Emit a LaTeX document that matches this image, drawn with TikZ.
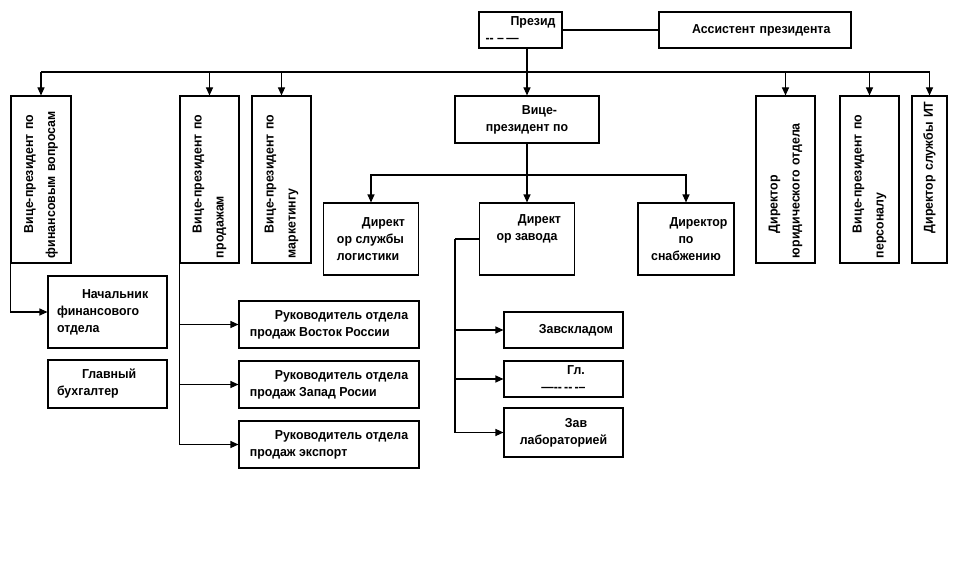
\documentclass[tikz,border=0pt]{standalone}
\usepackage{fontspec}
\setmainfont{Liberation Sans}[FakeStretch=0.95]
\usetikzlibrary{arrows.meta,positioning}
\newcommand{\firstind}{\hspace*{25pt}}
\tikzset{%
orgbox/.style={draw,line width=1.1pt,inner xsep=0pt,inner ysep=2pt,
  font=\bfseries\fontsize{13}{17}\selectfont},
lbox/.style={orgbox,align=left},
cbox/.style={orgbox,align=center},
vbox/.style={orgbox,rotate=90,align=left,minimum width=167pt,text width=157pt,
  font=\bfseries\fontsize{13}{22}\selectfont},
arr/.style={line width=1.1pt,-{Triangle[width=7pt,length=8pt]}},
link/.style={line width=1.1pt},
}

\begin{document}
\begin{tikzpicture}[x=1pt,y=-1pt]
  \useasboundingbox (0,0) rectangle (960,564);
  % top
  \node[lbox,minimum width=83pt,minimum height=36pt] (pres) at (520.5,30) {\firstind Презид\\-{}- \textendash\,\textemdash};
  \node[lbox,minimum width=192pt,text width=176pt,minimum height=36pt] (asst) at (755,30) {\firstind Ассистент президента};
  \draw[link] (pres) -- (asst);
  % vice presidents
  \node[vbox,minimum height=60pt] (vpfin) at (41,179.5) {\firstind Вице-президент по\\финансовым вопросам};
  \node[vbox,minimum height=59pt] (vpsales) at (209.5,179.5) {\firstind Вице-президент по\\продажам};
  \node[vbox,minimum height=59pt] (vpmkt) at (281.5,179.5) {\firstind Вице-президент по\\маркетингу};
  \node[cbox,minimum width=144pt,minimum height=47pt] (vpprod) at (527,119.5) {\firstind Вице-\\президент по};
  \node[vbox,minimum height=59pt] (dirlegal) at (785.5,179.5) {\firstind Директор\\юридического отдела};
  \node[vbox,minimum height=59pt] (vphr) at (869.5,179.5) {\firstind Вице-президент по\\персоналу};
  \node[vbox,minimum height=35pt] (dirit) at (929.5,179.5) {\firstind Директор службы ИТ};
  % directors
  \node[lbox,minimum width=95pt,minimum height=72pt] (dirlog) at (371,239) {\firstind Директ\\ор службы\\логистики};
  \node[cbox,minimum width=95pt,minimum height=72pt] (dirplant) at (527,239) {\firstind Директ\\ор завода\\\strut};
  \node[cbox,minimum width=96pt,minimum height=72pt] (dirsup) at (686,239) {\firstind Директор\\по\\снабжению};
  % finance and sales
  \node[lbox,minimum width=119pt,text width=101pt,minimum height=72pt] (headfin) at (107.5,312) {\firstind Начальник\\финансового\\отдела};
  \node[lbox,minimum width=119pt,text width=101pt,minimum height=48pt] (chiefacc) at (107.5,384) {\firstind Главный\\бухгалтер};
  \node[lbox,minimum width=180pt,minimum height=47pt] (sales1) at (329,324.5) {\firstind Руководитель отдела\\продаж Восток России};
  \node[lbox,minimum width=180pt,minimum height=47pt] (sales2) at (329,384.5) {\firstind Руководитель отдела\\продаж Запад Росии};
  \node[lbox,minimum width=180pt,minimum height=47pt] (sales3) at (329,444.5) {\firstind Руководитель отдела\\продаж экспорт};
  % plant
  \node[cbox,minimum width=119pt,minimum height=36pt] (stock) at (563.5,330) {\firstind Завскладом};
  \node[cbox,minimum width=119pt,minimum height=36pt] (chiefeng) at (563.5,379) {\firstind Гл.\\\textemdash-{}-\,-{}-\,-{}--};
  \node[cbox,minimum width=119pt,minimum height=49pt] (lab) at (563.5,432.5) {\firstind Зав\\лабораторией};
  % connectors
  \coordinate (busl) at (41,72);
  \coordinate (busr) at (929.5,72);
  \draw[link] (busl) -- (busr);
  \draw[arr] (pres.south -| vpprod) -- (vpprod);
  \foreach \n in {vpfin,vpsales,vpmkt,dirlegal,vphr,dirit}
    \draw[arr] (busl -| \n) -- (\n);
  \coordinate (bus2) at (527,175);
  \draw[arr] (vpprod) -- (dirplant);
  \draw[arr] (bus2) -| (dirlog);
  \draw[arr] (bus2) -| (dirsup);
  \draw[arr] (vpfin.north west) |- (headfin);
  \foreach \n in {sales1,sales2,sales3}
    \draw[arr] (vpsales.north west) |- (\n);
  \coordinate (plantl) at (455,239);
  \draw[link] (dirplant) -- (plantl);
  \foreach \n in {stock,chiefeng,lab}
    \draw[arr] (plantl) |- (\n);
\end{tikzpicture}
\end{document}
